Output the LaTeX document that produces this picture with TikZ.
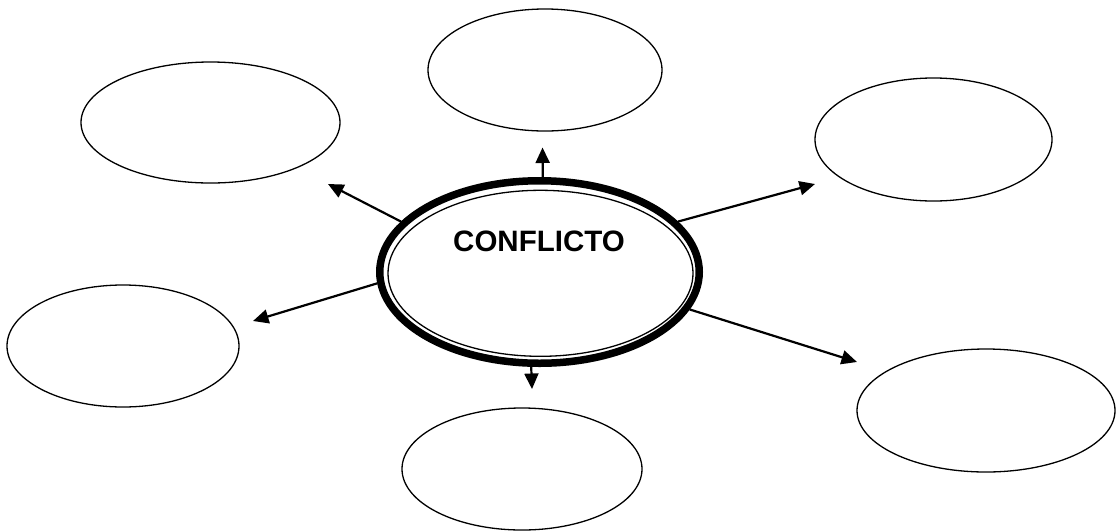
\documentclass[tikz,border=0pt]{standalone}
\usepackage{fontspec}
\setmainfont{Liberation Sans}
\usetikzlibrary{shapes.geometric,arrows.meta}
\begin{document}
\begin{tikzpicture}[x=1pt,y=-1pt,
  sat/.style={draw, ellipse, line width=1.3pt, inner sep=0pt},
  conn/.style={line width=2.2pt, -{Triangle[length=15.5pt,width=14pt]}}]
\useasboundingbox (0,0) rectangle (1116,531);
% central ellipse
\node[draw, ellipse, line width=7.5pt, minimum width=319.5pt, minimum height=182.5pt, inner sep=0pt] (c) at (539.5,272) {};
\node[draw, ellipse, line width=1.3pt, minimum width=305pt, minimum height=166pt, inner sep=0pt] (ci) at (540.5,273.3) {};
\node[anchor=base, font=\bfseries\fontsize{29.5}{34}\selectfont, inner sep=0pt] (t) at (539,251) {CONFLICTO};
% satellites
\node[sat, minimum width=259pt, minimum height=121pt] (s1) at (210.5,122.5) {};
\node[sat, minimum width=234pt, minimum height=122pt] (s2) at (545,70) {};
\node[sat, minimum width=237pt, minimum height=123pt] (s3) at (933.5,139.5) {};
\node[sat, minimum width=232pt, minimum height=122pt] (s4) at (123,346) {};
\node[sat, minimum width=240pt, minimum height=122pt] (s5) at (522,469) {};
\node[sat, minimum width=258pt, minimum height=123pt] (s6) at (986,410.5) {};
% arrow tips
\coordinate (tUp) at (542.5,147.5);
\coordinate (tDown) at (532,389);
\coordinate (tUL) at (328,184);
\coordinate (tL) at (253,321);
\coordinate (tUR) at (815,184);
\coordinate (tLR) at (857,362);
% connectors
\draw[conn] (c.88.3) -- (tUp);
\draw[conn] (c.265.5) -- (tDown);
\draw[conn] (c.160.5) -- (tUL);
\draw[conn] (c.184.75) -- (tL);
\draw[conn] (c.20) -- (tUR);
\draw[conn] (c.346) -- (tLR);
\end{tikzpicture}
\end{document}
